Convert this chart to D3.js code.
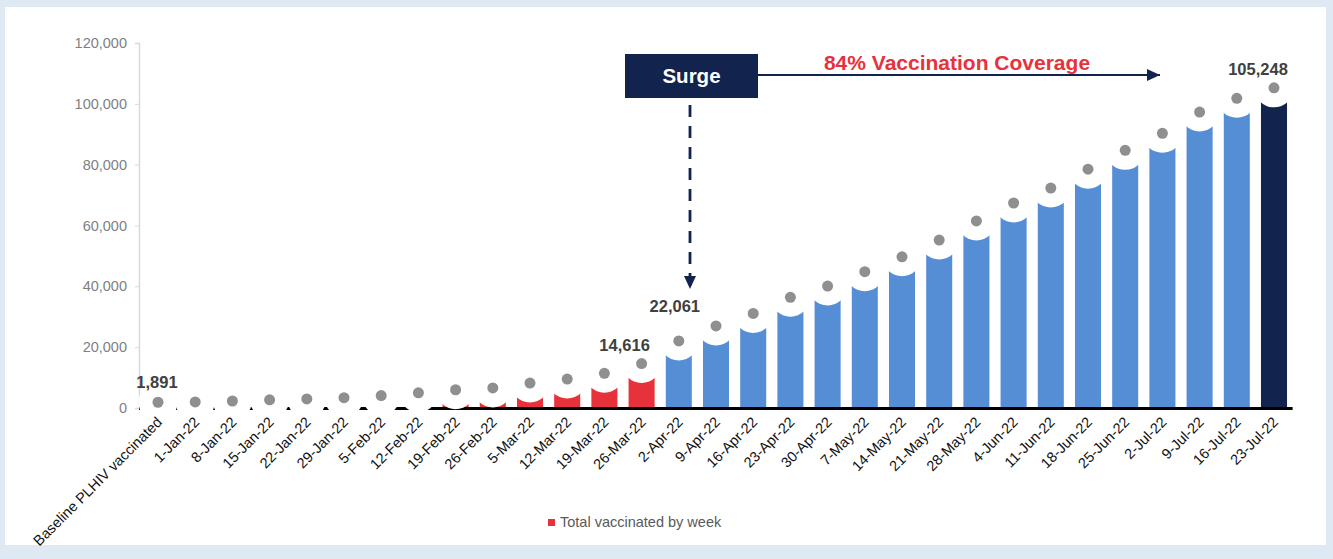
<!DOCTYPE html>
<html>
<head>
<meta charset="utf-8">
<script src="https://cdn.jsdelivr.net/npm/d3@7"></script>
<style>
  html, body { margin: 0; padding: 0; background: #dfe9f3; }
  svg { display: block; font-family: "Liberation Sans", Arial, sans-serif; }
</style>
</head>
<body>
<div id="chart"></div>
<script>
// weekly cumulative count of PLHIV vaccinated
var categories = ["Baseline PLHIV vaccinated", "1-Jan-22", "8-Jan-22", "15-Jan-22", "22-Jan-22", "29-Jan-22",
    "5-Feb-22", "12-Feb-22", "19-Feb-22", "26-Feb-22", "5-Mar-22", "12-Mar-22", "19-Mar-22", "26-Mar-22",
    "2-Apr-22", "9-Apr-22", "16-Apr-22", "23-Apr-22", "30-Apr-22", "7-May-22", "14-May-22", "21-May-22",
    "28-May-22", "4-Jun-22", "11-Jun-22", "18-Jun-22", "25-Jun-22", "2-Jul-22", "9-Jul-22", "16-Jul-22", "23-Jul-22"];

var vaccinated = [1891, 2000, 2300, 2700, 3000, 3400, 4100, 5000, 6000, 6600, 8200, 9500, 11400, 14616,
    22061, 27000, 31100, 36400, 40100, 44800, 49700, 55200, 61500, 67400, 72300, 78500, 84700,
    90300, 97300, 101800, 105248];

// pre = before surge, surge = from 2-Apr, latest = last week
var phases = ["pre", "pre", "pre", "pre", "pre", "pre", "pre", "pre", "pre", "pre", "pre", "pre", "pre", "pre",
    "surge", "surge", "surge", "surge", "surge", "surge", "surge", "surge", "surge", "surge", "surge", "surge",
    "surge", "surge", "surge", "surge", "latest"];

var yTicks = [0, 20000, 40000, 60000, 80000, 100000, 120000];
var labelled = ["Baseline PLHIV vaccinated", "26-Mar-22", "2-Apr-22", "23-Jul-22"];
var legendLabel = "Total vaccinated by week";

var W = 1333, H = 559;
var colors = { pre: "#e8323b", surge: "#558ed5", latest: "#12244d" };

var data = categories.map((c, i) => ({ cat: c, value: vaccinated[i], phase: phases[i] }));

var svg = d3.select("#chart").append("svg")
    .attr("width", W)
    .attr("height", H);

// white card over the pale blue page
svg.append("rect")
    .attr("x", 5).attr("y", 7)
    .attr("width", 1321).attr("height", 538)
    .attr("fill", "#fff");

var x = d3.scaleBand()
    .domain(categories)
    .range([139.4, 1292.6])
    .paddingInner(0.3)
    .paddingOuter(0.15);

var y = d3.scaleLinear()
    .domain([0, 120000])
    .range([408, 43]);

var cx = d => x(d.cat) + x.bandwidth() / 2;
var headGap = 14, cutR = 19.5;

// y axis
var yAxis = svg.append("g")
    .attr("transform", "translate(139,0)")
    .call(d3.axisLeft(y).tickValues(yTicks).tickFormat(d3.format(",")).tickSize(4).tickPadding(8));
yAxis.select(".domain").attr("stroke", "#d9d9d9").attr("stroke-width", 1.5);
yAxis.selectAll(".tick line").attr("stroke", "#d9d9d9");
yAxis.selectAll(".tick text")
    .attr("fill", "#7f7f7f")
    .style("font-size", "14.5px")
    .style("font-family", "Liberation Sans, Arial, sans-serif");

// bars (body of each figure)
svg.append("g")
    .selectAll("rect")
    .data(data)
    .join("rect")
    .attr("x", d => x(d.cat))
    .attr("y", d => Math.min(y(d.value) + headGap, y(0)))
    .attr("width", x.bandwidth())
    .attr("height", d => Math.max(0, y(0) - (y(d.value) + headGap)))
    .attr("fill", d => colors[d.phase]);

// x axis line
svg.append("line")
    .attr("x1", 139).attr("x2", 1292.6)
    .attr("y1", y(0) + 0.5).attr("y2", y(0) + 0.5)
    .attr("stroke", "#000")
    .attr("stroke-width", 3);

// white collar around each head
svg.append("g")
    .selectAll("circle")
    .data(data)
    .join("circle")
    .attr("cx", cx)
    .attr("cy", d => y(d.value))
    .attr("r", cutR)
    .attr("fill", "#fff");

// heads
svg.append("g")
    .selectAll("circle")
    .data(data)
    .join("circle")
    .attr("cx", cx)
    .attr("cy", d => y(d.value))
    .attr("r", 5.5)
    .attr("fill", "#8f8f8f");

// x labels
svg.append("g")
    .selectAll("text")
    .data(data)
    .join("text")
    .attr("transform", d => "translate(" + (cx(d) + 5) + "," + (y(0) + 15) + ") rotate(-45)")
    .attr("text-anchor", "end")
    .attr("fill", "#111")
    .style("font-size", "14.5px")
    .text(d => d.cat);

// value labels
var labelOffset = {
    "Baseline PLHIV vaccinated": [-1, -14],
    "26-Mar-22": [-17, -13],
    "2-Apr-22": [-4, -29],
    "23-Jul-22": [-16, -13]
};
svg.append("g")
    .selectAll("text")
    .data(data.filter(d => labelled.includes(d.cat)))
    .join("text")
    .attr("x", d => cx(d) + labelOffset[d.cat][0])
    .attr("y", d => y(d.value) + labelOffset[d.cat][1])
    .attr("text-anchor", "middle")
    .attr("fill", "#404040")
    .style("font-size", "16.5px")
    .style("font-weight", "bold")
    .text(d => d3.format(",")(d.value));

// surge annotation
var navy = "#12244d";
var defs = svg.append("defs");
defs.append("marker")
    .attr("id", "arrow")
    .attr("viewBox", "0 0 13 12")
    .attr("refX", 13).attr("refY", 6)
    .attr("markerWidth", 13).attr("markerHeight", 12)
    .attr("markerUnits", "userSpaceOnUse")
    .attr("orient", "auto")
    .append("path")
    .attr("d", "M0,0L13,6L0,12Z")
    .attr("fill", navy);

svg.append("line")
    .attr("x1", 758).attr("x2", 1160)
    .attr("y1", 75).attr("y2", 75)
    .attr("stroke", navy)
    .attr("stroke-width", 2)
    .attr("marker-end", "url(#arrow)");

svg.append("line")
    .attr("x1", 690).attr("x2", 690)
    .attr("y1", 105).attr("y2", 289)
    .attr("stroke", navy)
    .attr("stroke-width", 2.8)
    .attr("stroke-dasharray", "12,9")
    .attr("marker-end", "url(#arrow)");

svg.append("rect")
    .attr("x", 625).attr("y", 54)
    .attr("width", 133).attr("height", 44)
    .attr("fill", navy);

svg.append("text")
    .attr("x", 691.5).attr("y", 83)
    .attr("text-anchor", "middle")
    .attr("fill", "#fff")
    .style("font-size", "20.5px")
    .style("font-weight", "bold")
    .text("Surge");

svg.append("text")
    .attr("x", 957).attr("y", 70)
    .attr("text-anchor", "middle")
    .attr("fill", "#e8323b")
    .style("font-size", "21px")
    .style("font-weight", "bold")
    .text("84% Vaccination Coverage");

// legend
svg.append("rect")
    .attr("x", 548).attr("y", 519)
    .attr("width", 7).attr("height", 7)
    .attr("fill", colors.pre);
svg.append("text")
    .attr("x", 560).attr("y", 527)
    .attr("fill", "#595959")
    .style("font-size", "14.5px")
    .text(legendLabel);
</script>
</body>
</html>
